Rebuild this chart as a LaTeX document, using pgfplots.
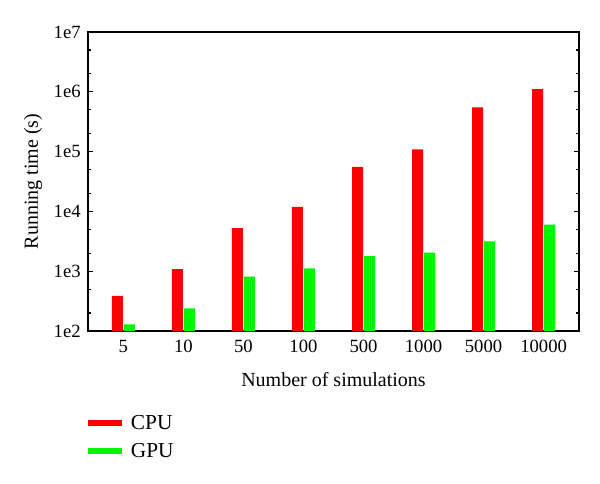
\documentclass[border=0pt]{standalone}
\usepackage{fontspec}
\setmainfont{Liberation Serif}
\usepackage{pgfplots}
\pgfplotsset{compat=1.18}
\definecolor{cpured}{RGB}{255,0,0}
\definecolor{gpugreen}{RGB}{0,245,0}
\begin{document}
\begin{tikzpicture}
\useasboundingbox (-66pt,-114pt) rectangle (384pt,248.25pt);
\begin{axis}[
  scale only axis,
  width=368.25pt, height=224.25pt,
  ymode=log, log origin=infty,
  ymin=100, ymax=1e7,
  xmin=-0.59, xmax=7.59,
  ybar=0.75pt, bar width=8.25pt,
  axis line style={line width=1.1pt},
  xtick={0,...,7},
  xticklabels={5,10,50,100,500,1000,5000,10000},
  xtick style={draw=none},
  ytick={1e2,1e3,1e4,1e5,1e6,1e7},
  yticklabels={1e2,1e3,1e4,1e5,1e6,1e7},
  minor ytick={200,500,2000,5000,20000,50000,200000,500000,2000000,5000000},
  ytick pos=both,
  tick align=inside,
  major tick length=3.5pt, minor tick length=2pt,
  every tick/.style={black, line width=0.8pt},
  tick label style={font=\fontsize{14}{16}\selectfont},
  xticklabel style={yshift=-3.5pt},
  yticklabel style={xshift=-2pt},
  ylabel={Running time (s)},
  xlabel={Number of simulations},
  label style={font=\fontsize{15}{17}\selectfont},
  xlabel style={at={(axis description cs:0.5,-0.164)}, anchor=center},
  ylabel style={at={(axis description cs:-0.112,0.5)}, anchor=center},
  legend style={at={(axis description cs:0,-0.262)}, anchor=north west, draw=none, fill=none,
    font=\fontsize{16}{18}\selectfont, row sep=5pt, inner xsep=0pt,
    nodes={inner xsep=6.5pt}},
  legend cell align=left,
]
\addplot[fill=cpured, draw=none,
  legend image code/.code={\fill[cpured] (-4.5pt,-2.25pt) rectangle (21pt,2.25pt);}]
  coordinates {(0,385) (1,1080) (2,5250) (3,11900) (4,55600) (5,109000) (6,547000) (7,1110000)};
\addplot[fill=gpugreen, draw=none,
  legend image code/.code={\fill[gpugreen] (-4.5pt,-2.25pt) rectangle (21pt,2.25pt);}]
  coordinates {(0,129) (1,239) (2,815) (3,1120) (4,1780) (5,2050) (6,3160) (7,6000)};
\legend{CPU,GPU}
\end{axis}
\end{tikzpicture}
\end{document}
